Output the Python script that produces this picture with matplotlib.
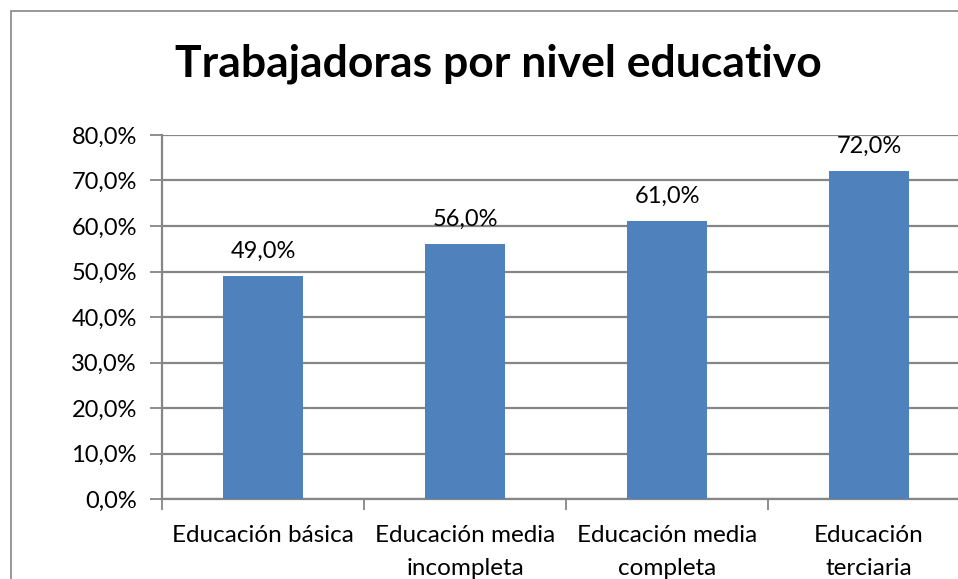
import matplotlib
matplotlib.use("Agg")
import matplotlib.pyplot as plt
from matplotlib.patches import Rectangle
from matplotlib.ticker import FuncFormatter, FixedLocator

categories = ["Educación básica", "Educación media\nincompleta",
              "Educación media\ncompleta", "Educación\nterciaria"]
values = [49.0, 56.0, 61.0, 72.0]
title = "Trabajadoras por nivel educativo"

W, H = 958, 579
fig = plt.figure(figsize=(W / 100, H / 100), dpi=100)
plt.rcParams['font.family'] = ['Lato', 'DejaVu Sans']

# outer chart border (extends beyond the cropped image)
fig.add_artist(Rectangle((10.5 / W, -0.1), 1.2, 1 - 10.5 / H + 0.1,
                         transform=fig.transFigure, fill=False,
                         edgecolor="#868686", linewidth=1.2))

left, right = 162 / W, 970 / W
bottom, top = 1 - 499 / H, 1 - 135 / H
ax = fig.add_axes([left, bottom, right - left, top - bottom])

grid_c = "#868686"
x = list(range(len(categories)))
ax.bar(x, values, width=0.40, color="#4F81BD", zorder=3)
ax.set_xlim(-0.5, len(categories) - 0.5)
ax.set_ylim(0, 80)
ax.set_yticks(range(0, 81, 10))
ax.yaxis.set_major_formatter(FuncFormatter(lambda v, p: f"{v:.1f}%".replace(".", ",")))
ax.yaxis.grid(True, color=grid_c, linewidth=1.6, zorder=0)
ax.set_axisbelow(True)

ax.set_xticks(x)
ax.set_xticklabels(categories, fontsize=17.5, linespacing=1.68)
ax.xaxis.set_minor_locator(FixedLocator([i - 0.5 for i in range(len(categories) + 1)]))
ax.tick_params(axis="x", which="major", length=0, pad=19)
ax.tick_params(axis="x", which="minor", length=8, width=1.3, color=grid_c, direction="out")
ax.tick_params(axis="y", length=9, width=1.3, color=grid_c, labelsize=17, pad=9)

for s in ["top", "right"]:
    ax.spines[s].set_visible(False)
for s in ["left", "bottom"]:
    ax.spines[s].set_color(grid_c)
    ax.spines[s].set_linewidth(1.6)

for xi, v in zip(x, values):
    ax.annotate(f"{v:.1f}%".replace(".", ","), (xi, v), xytext=(0, 18),
                textcoords="offset points", ha="center", va="center", fontsize=17)

fig.text(498.5 / W, 1 - 64 / H, title, ha="center", va="center",
         fontsize=32, fontweight="bold")

fig.savefig("out.png", dpi=100)
